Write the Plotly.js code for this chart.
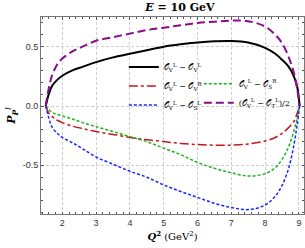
<!DOCTYPE html>
<html><head><meta charset="utf-8">
<script src="https://cdn.plot.ly/plotly-3.0.1.min.js"></script>
<style>html,body{margin:0;padding:0;background:#fff}#plot{width:305px;height:248px}</style>
</head><body><div id="plot"></div>
<script>
const Q2 = [1.51, 1.6, 1.7, 1.85, 2.0, 2.3, 2.6, 3.0, 3.5, 4.0, 4.5, 5.0, 5.5, 6.0, 6.5, 7.0, 7.5, 8.0, 8.3, 8.5, 8.7, 8.85, 8.95, 9.02];
const seriesVV_LL = [0, 0.10, 0.17, 0.22, 0.255, 0.30, 0.33, 0.37, 0.41, 0.44, 0.47, 0.50, 0.52, 0.535, 0.545, 0.548, 0.535, 0.49, 0.44, 0.39, 0.33, 0.25, 0.16, 0];
const seriesVV_LR = [0, -0.06, -0.09, -0.12, -0.14, -0.17, -0.19, -0.215, -0.24, -0.265, -0.285, -0.30, -0.315, -0.325, -0.33, -0.33, -0.32, -0.295, -0.265, -0.23, -0.18, -0.13, -0.06, 0];
const seriesVS_LR = [0, -0.03, -0.055, -0.07, -0.083, -0.11, -0.14, -0.174, -0.215, -0.258, -0.30, -0.355, -0.41, -0.475, -0.525, -0.562, -0.59, -0.57, -0.52, -0.45, -0.34, -0.21, -0.10, 0];
const seriesVS_LL = [0, -0.10, -0.18, -0.23, -0.265, -0.31, -0.36, -0.43, -0.49, -0.55, -0.60, -0.665, -0.72, -0.77, -0.82, -0.855, -0.873, -0.835, -0.76, -0.67, -0.52, -0.33, -0.15, 0];
const seriesVT_LL = [0, 0.15, 0.26, 0.35, 0.40, 0.46, 0.50, 0.55, 0.58, 0.61, 0.64, 0.66, 0.68, 0.70, 0.71, 0.72, 0.715, 0.67, 0.60, 0.53, 0.41, 0.28, 0.14, 0];
const labels = [
  "𝒪<sub>V</sub><sup>L</sup> − 𝒪<sub>V</sub><sup>L</sup>",
  "𝒪<sub>V</sub><sup>L</sup> − 𝒪<sub>V</sub><sup>R</sup>",
  "𝒪<sub>V</sub><sup>L</sup> − 𝒪<sub>S</sub><sup>R</sup>",
  "𝒪<sub>V</sub><sup>L</sup> − 𝒪<sub>S</sub><sup>L</sup>",
  "(𝒪<sub>V</sub><sup>L</sup> − 𝒪<sub>T</sub><sup>L</sup>)/2"
];
const xTicks = [2, 3, 4, 5, 6, 7, 8, 9];
const yTicks = [-0.5, 0.0, 0.5];

const serif = "DejaVu Serif, Liberation Serif, serif";
const traces = [
  {x: Q2, y: seriesVV_LL, name: labels[0], legend: 'legend', line: {color: '#000000', width: 2, shape: 'spline'}},
  {x: Q2, y: seriesVV_LR, name: labels[1], legend: 'legend', line: {color: '#c8141e', width: 1.5, dash: 'dashdot', shape: 'spline'}},
  {x: Q2, y: seriesVS_LR, name: labels[2], legend: 'legend2', line: {color: '#19b419', width: 1.5, dash: '3px,2px', shape: 'spline'}},
  {x: Q2, y: seriesVS_LL, name: labels[3], legend: 'legend', line: {color: '#1428ff', width: 1.5, dash: '3px,2px', shape: 'spline'}},
  {x: Q2, y: seriesVT_LL, name: labels[4], legend: 'legend2', line: {color: '#8c0a8c', width: 2, dash: '8px,4px', shape: 'spline'}}
].map(t => Object.assign({type: 'scatter', mode: 'lines'}, t));

const axisCommon = {
  showline: true, linecolor: '#777', linewidth: 1, mirror: 'allticks',
  ticks: 'inside', ticklen: 2.5, tickcolor: '#555', tickwidth: 1,
  showgrid: true, gridcolor: '#cfcfcf', gridwidth: 1, griddash: '3px,2px',
  zeroline: false, tickfont: {family: 'Liberation Sans, Arial, sans-serif', size: 9, color: '#333'}
};
const layout = {
  width: 305, height: 248,
  margin: {l: 41, r: 1, t: 17, b: 34},
  paper_bgcolor: '#fff', plot_bgcolor: '#fff',
  title: {text: "<b><i>E</i> = 10 GeV</b>", font: {family: serif, size: 11, color: '#000'}, x: 0.59, xanchor: 'center', y: 0.972, yanchor: 'middle'},
  xaxis: Object.assign({}, axisCommon, {
    range: [1.37, 9.15], tickvals: xTicks, ticktext: xTicks.map(String),
    minor: {dtick: 0.2, tick0: 0, ticks: 'inside', ticklen: 2, tickcolor: '#555', showgrid: false},
    title: {text: "<b><i>Q</i><sup>2</sup></b> (GeV<sup>2</sup>)", font: {family: serif, size: 10, color: '#000'}, standoff: 6}
  }),
  yaxis: Object.assign({}, axisCommon, {
    range: [-0.91, 0.75], tickvals: yTicks, ticktext: yTicks.map(v => v.toFixed(1)),
    minor: {dtick: 0.1, tick0: 0, ticks: 'inside', ticklen: 2, tickcolor: '#555', showgrid: false},
    title: {text: "<b><i>P</i></b><sub><b><i>P</i></b></sub><sup><i>l</i></sup>", font: {family: serif, size: 11, color: '#000'}, standoff: 4}
  }),
  legend: {x: 0.315, y: 0.82, xanchor: 'left', yanchor: 'top', bgcolor: 'rgba(0,0,0,0)', borderwidth: 0,
    font: {family: serif, size: 8, color: '#000'}, tracegroupgap: 0, itemwidth: 30},
  legend2: {x: 0.6, y: 0.735, xanchor: 'left', yanchor: 'top', bgcolor: 'rgba(0,0,0,0)', borderwidth: 0,
    font: {family: serif, size: 8, color: '#000'}, tracegroupgap: 0, itemwidth: 30},
  showlegend: true
};
Plotly.newPlot('plot', traces, layout, {displayModeBar: false, staticPlot: true});
</script></body></html>
